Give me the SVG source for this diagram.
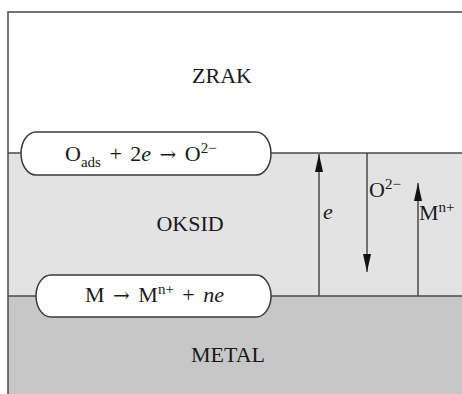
<svg xmlns="http://www.w3.org/2000/svg" width="462" height="394" viewBox="0 0 462 394">
<style>
text{font-family:"Liberation Serif","Times New Roman",serif;fill:#1a1a1a}
.lbl{font-size:22px}
.sm{font-size:15px}
.ar{font-family:"DejaVu Serif",serif;font-size:20px}
.fx{word-spacing:3px}
.ln{stroke:#4a4a4a;stroke-width:1.5;fill:none}
.pill{fill:#fff;stroke:#3a3a3a;stroke-width:1.5}
.arr{stroke:#4a4a4a;stroke-width:1.5;fill:none}
</style>
<defs>
<marker id="head" viewBox="0 0 18 8" refX="18" refY="4" markerWidth="18" markerHeight="8" markerUnits="userSpaceOnUse" orient="auto">
<path d="M0,0 L18,4 L0,8 z" fill="#111"/>
</marker>
</defs>
<rect x="0" y="0" width="462" height="394" fill="#fff"/>
<g id="zrak">
<rect x="8" y="12" width="454" height="141" fill="#fff"/>
<text class="lbl" x="222" y="83" text-anchor="middle">ZRAK</text>
</g>
<g id="oksid">
<rect x="8" y="153" width="454" height="143" fill="#e3e3e3"/>
<text class="lbl" x="190" y="231" text-anchor="middle">OKSID</text>
</g>
<g id="metal">
<rect x="8" y="296" width="454" height="98" fill="#c7c7c7"/>
<text class="lbl" x="228" y="362" text-anchor="middle">METAL</text>
</g>
<g id="frame">
<path class="ln" d="M8,394 V12 H462"/>
<path class="ln" d="M8,153 H462"/>
<path class="ln" d="M8,296 H462"/>
</g>
<g id="reaction-oxygen">
<rect class="pill" x="21" y="132" width="250" height="43" rx="15" ry="21.5"/>
<text class="lbl fx" x="65" y="161">O<tspan class="sm" dy="6">ads</tspan><tspan dy="-6"> + 2</tspan><tspan font-style="italic">e</tspan> <tspan class="ar">→</tspan> O<tspan class="sm" dy="-8">2−</tspan></text>
</g>
<g id="reaction-metal">
<rect class="pill" x="36" y="275" width="235" height="42" rx="15" ry="21"/>
<text class="lbl fx" x="85" y="302">M <tspan class="ar">→</tspan> M<tspan class="sm" dy="-8">n+</tspan><tspan dy="8"> + </tspan><tspan font-style="italic">ne</tspan></text>
</g>
<g id="connectors">
<line class="arr" x1="319" y1="296" x2="319" y2="154" marker-end="url(#head)"/>
<line class="arr" x1="367" y1="153" x2="367" y2="272" marker-end="url(#head)"/>
<line class="arr" x1="418" y1="296" x2="418" y2="183" marker-end="url(#head)"/>
</g>
<g id="labels">
<text class="lbl" x="323" y="219" font-style="italic">e</text>
<text class="lbl" x="369" y="197">O<tspan class="sm" dy="-8">2−</tspan></text>
<text class="lbl" x="419" y="220">M<tspan class="sm" dy="-8">n+</tspan></text>
</g>
</svg>
